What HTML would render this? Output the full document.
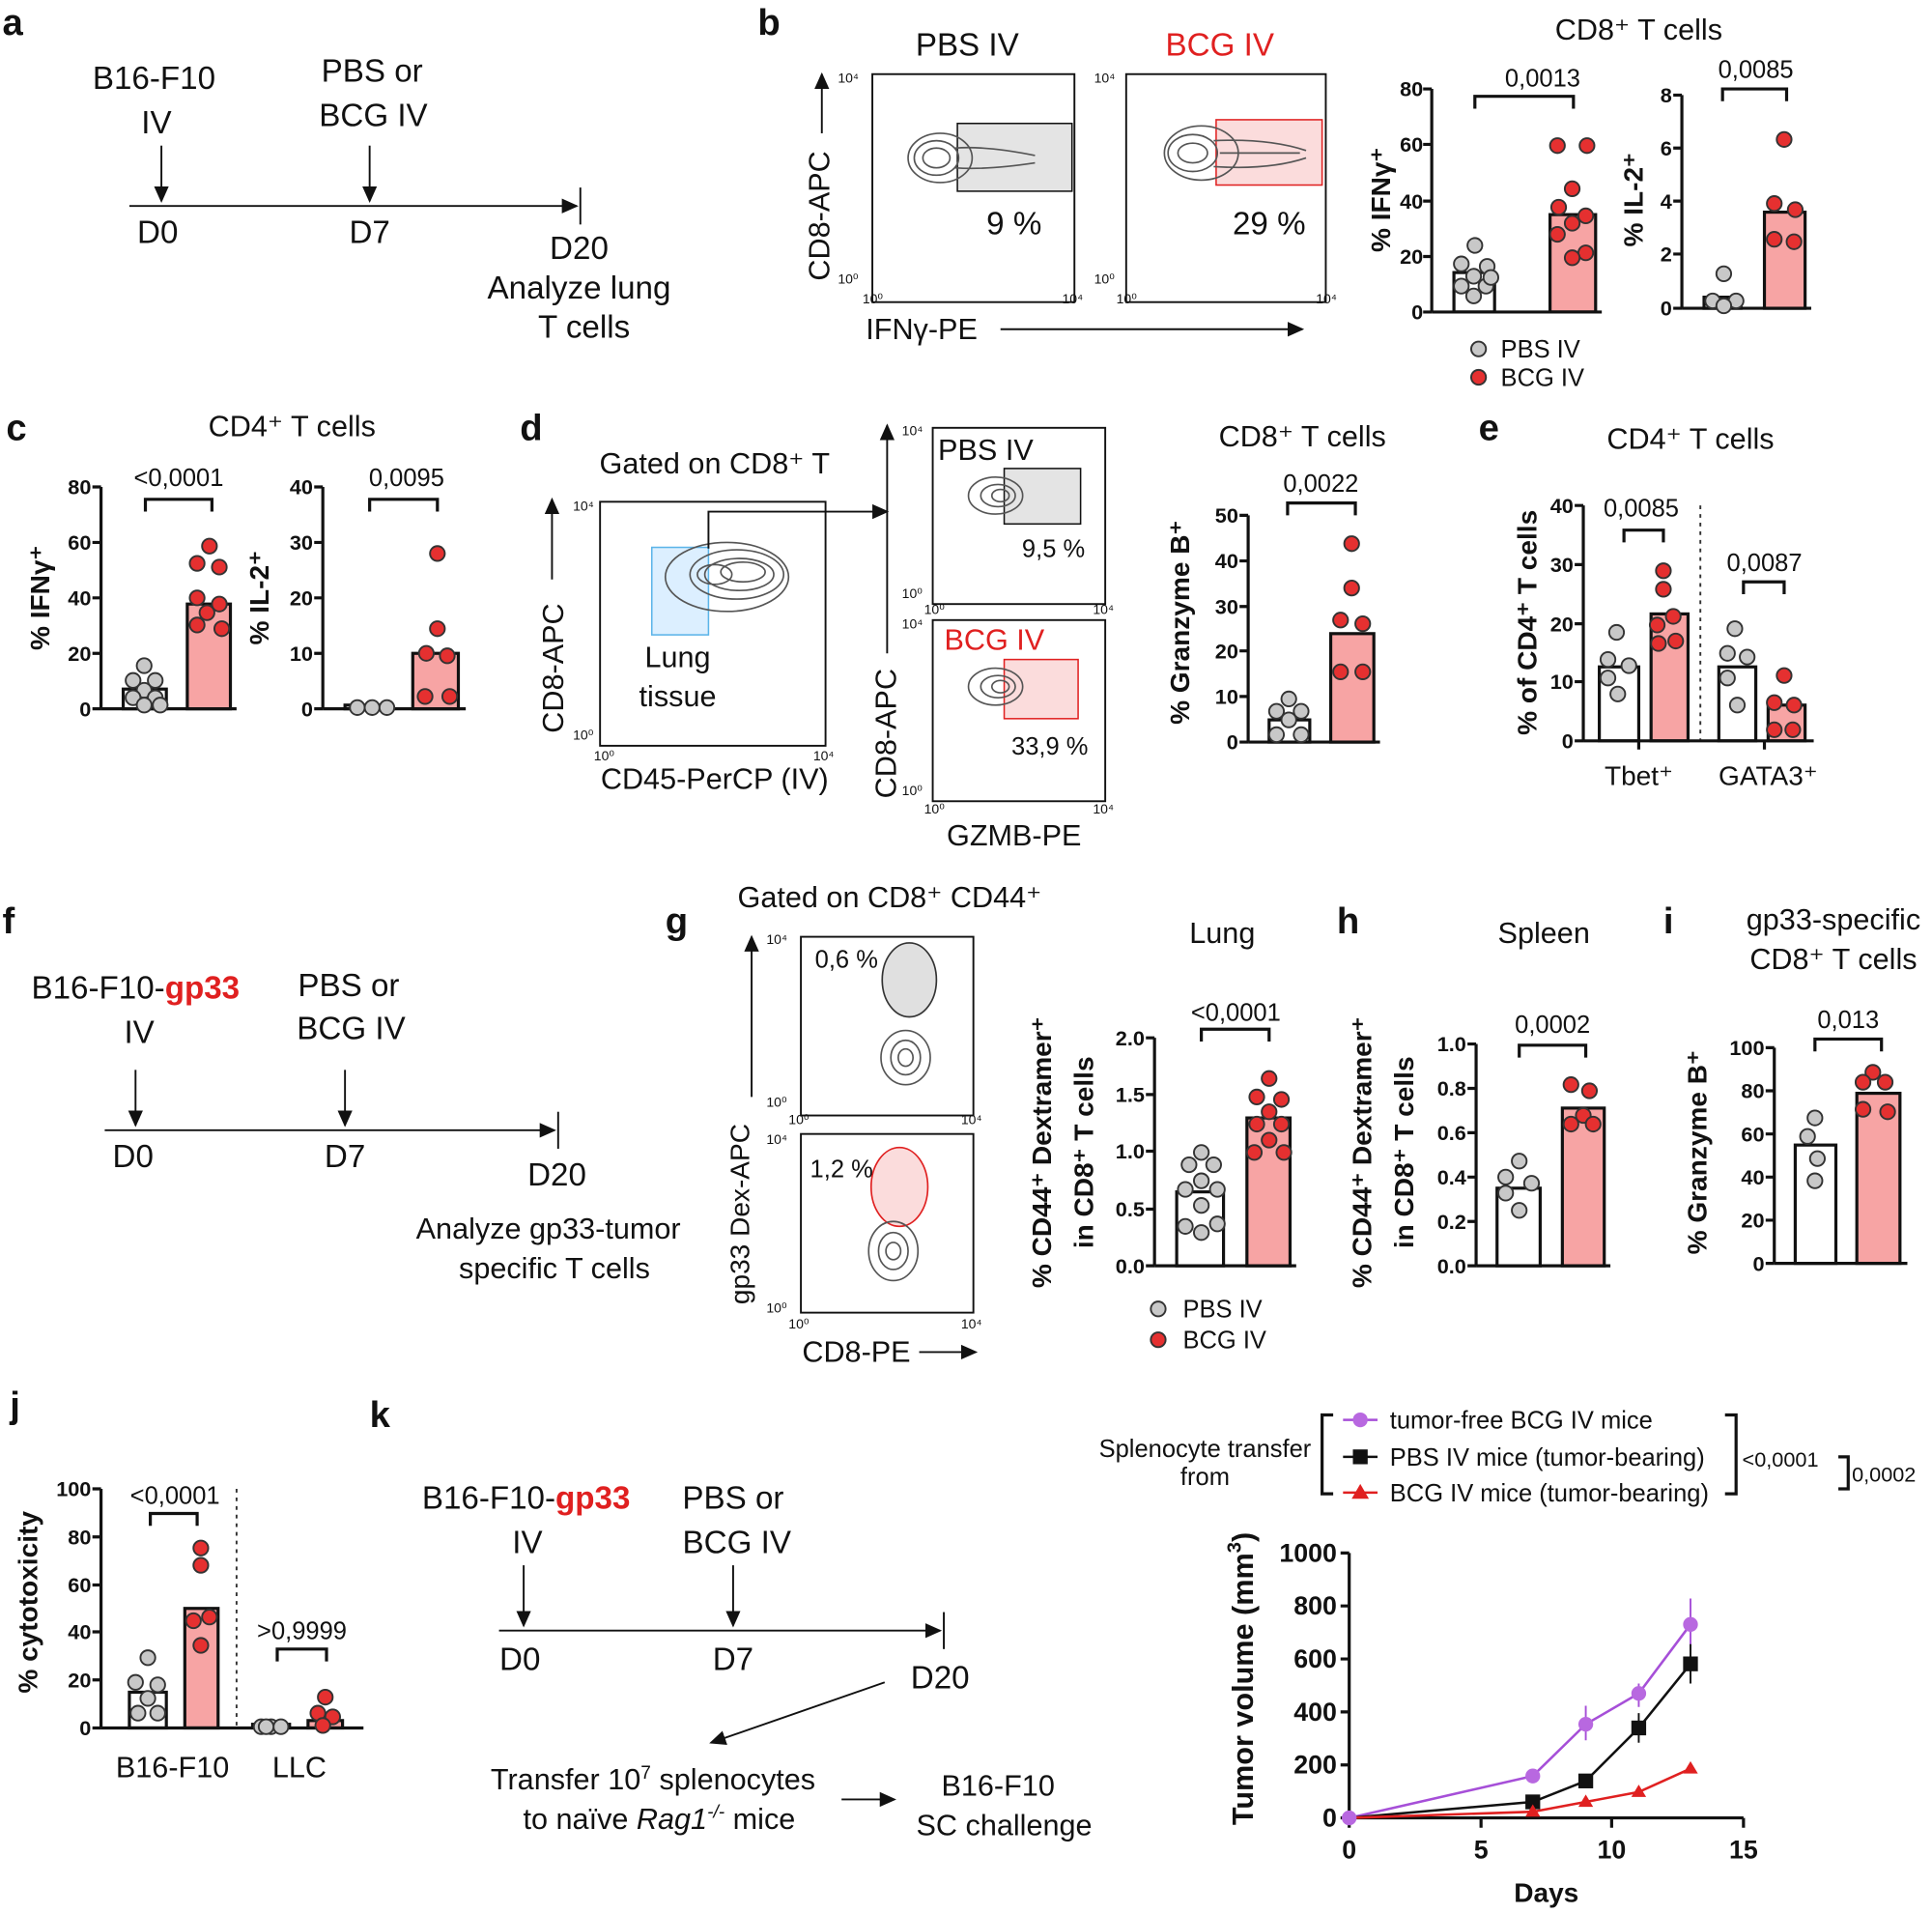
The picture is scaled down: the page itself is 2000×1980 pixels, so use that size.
<!DOCTYPE html>
<html><head><meta charset="utf-8"><style>
html,body{margin:0;padding:0;background:#fff}
svg{display:block}
text{font-family:"Liberation Sans",Arial,sans-serif;fill:#111}
.L{font-size:30px;font-weight:bold}
.T{font-size:26px}
.S{font-size:20px}
.tk{font-size:17px;font-weight:bold}
.yl{font-size:22px;font-weight:bold}
.sm{font-size:11px}
.ax{stroke:#111;stroke-width:2.5;fill:none}
.ln{stroke:#111;stroke-width:1.5;fill:none}
.pb{fill:#fff;stroke:#111;stroke-width:2.5}
.rb{fill:#f7a4a4;stroke:#111;stroke-width:2.5}
.gp{fill:#c8c8c8;stroke:#333;stroke-width:1.5}
.rp{fill:#e53030;stroke:#333;stroke-width:1.5}
.ct{fill:none;stroke:#555;stroke-width:1.3}
.br{fill:none;stroke:#111;stroke-width:2.5}
</style></head><body>
<svg width="2000" height="1980" viewBox="0 0 1568 1552" xmlns="http://www.w3.org/2000/svg">
<defs><marker id="ah" markerWidth="10" markerHeight="10" refX="8" refY="5" orient="auto"><path d="M0,1 L9,5 L0,9 z" fill="#111"/></marker></defs>

<!-- a -->
<text class="L" x="2" y="28">a</text>
<g class="T" text-anchor="middle">
<text x="125" y="72">B16-F10</text><text x="127" y="108">IV</text>
<text x="302" y="66">PBS or</text><text x="303" y="102">BCG IV</text>
<text x="128" y="197">D0</text><text x="300" y="197">D7</text><text x="470" y="210">D20</text>
<text x="470" y="242">Analyze lung</text><text x="474" y="274">T cells</text></g>
<line class="ln" x1="131" y1="118" x2="131" y2="163" marker-end="url(#ah)"/>
<line class="ln" x1="300" y1="118" x2="300" y2="163" marker-end="url(#ah)"/>
<line class="ln" x1="105" y1="167" x2="468" y2="167" marker-end="url(#ah)"/>
<line class="ln" x1="471" y1="152" x2="471" y2="182"/>

<!-- b -->
<text class="L" x="615" y="28">b</text>
<text class="T" x="785" y="45" text-anchor="middle">PBS IV</text>
<text class="T" x="990" y="45" text-anchor="middle" style="fill:#e02020">BCG IV</text>
<rect x="708" y="60" width="164" height="185" class="ln"/>
<rect x="914" y="60" width="162" height="185" class="ln"/>
<rect x="777" y="100" width="93" height="55" fill="#e4e4e4" stroke="#111" stroke-width="1.2"/>
<rect x="987" y="97" width="86" height="53" fill="#fbdcdc" stroke="#e02020" stroke-width="1.2"/>
<g class="ct"><ellipse cx="760" cy="128" rx="18" ry="14"/><ellipse cx="760" cy="128" rx="11" ry="8"/><ellipse cx="763" cy="128" rx="26" ry="20"/><path d="M775,120 Q800,118 840,126"/><path d="M775,136 Q800,138 840,132"/>
<ellipse cx="968" cy="124" rx="20" ry="15"/><ellipse cx="968" cy="124" rx="12" ry="8"/><ellipse cx="975" cy="124" rx="30" ry="22"/><path d="M985,114 Q1030,112 1060,122"/><path d="M985,135 Q1030,138 1060,128"/><path d="M990,124 Q1030,124 1055,124"/></g>
<text class="T" x="823" y="190" text-anchor="middle">9 %</text>
<text class="T" x="1030" y="190" text-anchor="middle">29 %</text>
<g class="sm"><text x="680" y="67">10⁴</text><text x="680" y="230">10⁰</text><text x="700" y="246">10⁰</text><text x="862" y="246">10⁴</text>
<text x="888" y="67">10⁴</text><text x="888" y="230">10⁰</text><text x="906" y="246">10⁰</text><text x="1068" y="246">10⁴</text></g>
<line class="ln" x1="667" y1="108" x2="667" y2="60" marker-end="url(#ah)"/>
<text class="T" transform="translate(673,175) rotate(-90)" text-anchor="middle" style="font-size:24px">CD8-APC</text>
<text class="T" x="748" y="275" text-anchor="middle" style="font-size:24px">IFNγ-PE</text>
<line class="ln" x1="812" y1="267" x2="1057" y2="267" marker-end="url(#ah)"/>
<text class="T" x="1330" y="32" text-anchor="middle" style="font-size:24px">CD8⁺ T cells</text>
<!-- IFN bar -->
<g class="tk" text-anchor="end"><text x="1155" y="259">0</text><text x="1155" y="214">20</text><text x="1155" y="169">40</text><text x="1155" y="123">60</text><text x="1155" y="78">80</text></g>
<path class="ax" d="M1162,72V253M1155,72H1162M1155,117H1162M1155,163H1162M1155,208H1162M1155,253H1162"/>
<rect class="pb" x="1180" y="221" width="33" height="32"/><rect class="rb" x="1258" y="174" width="37" height="79"/>
<path class="ax" d="M1162,253H1300"/>
<path class="br" d="M1197,88V78H1277V88"/><text class="S" x="1252" y="70" text-anchor="middle">0,0013</text>
<g class="gp"><circle cx="1197" cy="199" r="6"/><circle cx="1186" cy="214" r="6"/><circle cx="1207" cy="216" r="6"/><circle cx="1196" cy="224" r="6"/><circle cx="1186" cy="232" r="6"/><circle cx="1206" cy="232" r="6"/><circle cx="1196" cy="240" r="6"/><circle cx="1210" cy="225" r="6"/></g>
<g class="rp"><circle cx="1264" cy="118" r="6"/><circle cx="1288" cy="118" r="6"/><circle cx="1276" cy="153" r="6"/><circle cx="1265" cy="168" r="6"/><circle cx="1287" cy="175" r="6"/><circle cx="1276" cy="181" r="6"/><circle cx="1264" cy="190" r="6"/><circle cx="1287" cy="205" r="6"/><circle cx="1276" cy="209" r="6"/></g>
<text class="yl" transform="translate(1128,162) rotate(-90)" text-anchor="middle">% IFNγ⁺</text>
<!-- IL2 -->
<g class="tk" text-anchor="end"><text x="1357" y="256">0</text><text x="1357" y="212">2</text><text x="1357" y="169">4</text><text x="1357" y="126">6</text><text x="1357" y="83">8</text></g>
<path class="ax" d="M1365,77V250M1358,77H1365M1358,120H1365M1358,163H1365M1358,206H1365M1358,250H1365"/>
<rect class="pb" x="1383" y="241" width="30" height="9"/><rect class="rb" x="1432" y="172" width="33" height="78"/>
<path class="ax" d="M1365,250H1470"/>
<path class="br" d="M1398,82V72H1450V82"/><text class="S" x="1425" y="63" text-anchor="middle">0,0085</text>
<g class="gp"><circle cx="1399" cy="222" r="6"/><circle cx="1390" cy="244" r="6"/><circle cx="1409" cy="244" r="6"/><circle cx="1399" cy="248" r="6"/></g>
<g class="rp"><circle cx="1448" cy="113" r="6"/><circle cx="1440" cy="165" r="6"/><circle cx="1457" cy="170" r="6"/><circle cx="1440" cy="194" r="6"/><circle cx="1456" cy="196" r="6"/></g>
<text class="yl" transform="translate(1333,162) rotate(-90)" text-anchor="middle">% IL-2⁺</text>
<circle class="gp" cx="1200" cy="283" r="6"/><text class="S" x="1218" y="290">PBS IV</text>
<circle class="rp" cx="1200" cy="306" r="6"/><text class="S" x="1218" y="313">BCG IV</text>

<!-- c -->
<text class="L" x="5" y="357">c</text>
<text class="T" x="237" y="354" text-anchor="middle" style="font-size:24px">CD4⁺ T cells</text>
<g class="tk" text-anchor="end"><text x="74" y="581">0</text><text x="74" y="536">20</text><text x="74" y="491">40</text><text x="74" y="446">60</text><text x="74" y="401">80</text></g>
<path class="ax" d="M82,395V575M75,395H82M75,440H82M75,485H82M75,530H82M75,575H82"/>
<rect class="pb" x="100" y="559" width="35" height="16"/><rect class="rb" x="152" y="490" width="35" height="85"/>
<path class="ax" d="M82,575H192"/>
<path class="br" d="M118,415V405H172V415"/><text class="S" x="145" y="394" text-anchor="middle">&lt;0,0001</text>
<g class="gp"><circle cx="117" cy="540" r="6"/><circle cx="108" cy="552" r="6"/><circle cx="126" cy="552" r="6"/><circle cx="117" cy="560" r="6"/><circle cx="108" cy="566" r="6"/><circle cx="126" cy="566" r="6"/><circle cx="117" cy="572" r="6"/><circle cx="130" cy="572" r="6"/></g>
<g class="rp"><circle cx="170" cy="443" r="6"/><circle cx="160" cy="457" r="6"/><circle cx="178" cy="460" r="6"/><circle cx="160" cy="485" r="6"/><circle cx="178" cy="490" r="6"/><circle cx="168" cy="497" r="6"/><circle cx="180" cy="510" r="6"/><circle cx="160" cy="507" r="6"/></g>
<text class="yl" transform="translate(40,485) rotate(-90)" text-anchor="middle">% IFNγ⁺</text>
<g class="tk" text-anchor="end"><text x="254" y="581">0</text><text x="254" y="536">10</text><text x="254" y="491">20</text><text x="254" y="446">30</text><text x="254" y="401">40</text></g>
<path class="ax" d="M262,395V575M255,395H262M255,440H262M255,485H262M255,530H262M255,575H262"/>
<rect class="pb" x="280" y="572" width="38" height="3"/><rect class="rb" x="335" y="530" width="37" height="45"/>
<path class="ax" d="M262,575H378"/>
<path class="br" d="M300,415V405H355V415"/><text class="S" x="330" y="394" text-anchor="middle">0,0095</text>
<g class="gp"><circle cx="290" cy="574" r="6"/><circle cx="302" cy="574" r="6"/><circle cx="314" cy="574" r="6"/></g>
<g class="rp"><circle cx="355" cy="449" r="6"/><circle cx="355" cy="510" r="6"/><circle cx="346" cy="530" r="6"/><circle cx="363" cy="532" r="6"/><circle cx="345" cy="565" r="6"/><circle cx="365" cy="565" r="6"/></g>
<text class="yl" transform="translate(218,485) rotate(-90)" text-anchor="middle">% IL-2⁺</text>

<!-- d -->
<text class="L" x="422" y="357">d</text>
<text class="T" x="580" y="384" text-anchor="middle" style="font-size:24px">Gated on CD8⁺ T</text>
<rect x="487" y="407" width="183" height="198" class="ln"/>
<rect x="529" y="444" width="46" height="71" fill="#dcefff" stroke="#5bb4e8" stroke-width="1.2"/>
<g class="ct"><ellipse cx="598" cy="466" rx="38" ry="20"/><ellipse cx="600" cy="466" rx="28" ry="13"/><ellipse cx="603" cy="464" rx="18" ry="8"/><ellipse cx="580" cy="466" rx="14" ry="8"/><ellipse cx="590" cy="468" rx="50" ry="28"/></g>
<text class="T" x="550" y="541" text-anchor="middle" style="font-size:24px">Lung</text><text class="T" x="550" y="573" text-anchor="middle" style="font-size:24px">tissue</text>
<line class="ln" x1="448" y1="470" x2="448" y2="405" marker-end="url(#ah)"/>
<text class="T" transform="translate(457,542) rotate(-90)" text-anchor="middle" style="font-size:24px">CD8-APC</text>
<text class="T" x="580" y="640" text-anchor="middle" style="font-size:24px">CD45-PerCP (IV)</text>
<g class="sm"><text x="465" y="414">10⁴</text><text x="465" y="600">10⁰</text><text x="482" y="617">10⁰</text><text x="660" y="617">10⁴</text></g>
<path class="ln" d="M575,445V415H720" marker-end="url(#ah)"/>
<rect x="757" y="347" width="140" height="143" class="ln"/>
<rect x="757" y="503" width="140" height="147" class="ln"/>
<rect x="815" y="380" width="62" height="45" fill="#e4e4e4" stroke="#111" stroke-width="1.2"/>
<rect x="815" y="535" width="60" height="48" fill="#fbdcdc" stroke="#e02020" stroke-width="1.2"/>
<g class="ct"><ellipse cx="808" cy="402" rx="22" ry="15"/><ellipse cx="810" cy="402" rx="14" ry="9"/><ellipse cx="812" cy="402" rx="7" ry="5"/>
<ellipse cx="808" cy="557" rx="22" ry="15"/><ellipse cx="810" cy="557" rx="14" ry="9"/><ellipse cx="812" cy="557" rx="7" ry="5"/></g>
<text class="T" x="800" y="373" text-anchor="middle" style="font-size:24px">PBS IV</text>
<text class="T" x="807" y="527" text-anchor="middle" style="font-size:24px;fill:#e02020">BCG IV</text>
<text class="S" x="855" y="452" text-anchor="middle">9,5 %</text>
<text class="S" x="852" y="612" text-anchor="middle">33,9 %</text>
<g class="sm"><text x="732" y="353">10⁴</text><text x="732" y="485">10⁰</text><text x="750" y="498">10⁰</text><text x="887" y="498">10⁴</text>
<text x="732" y="510">10⁴</text><text x="732" y="645">10⁰</text><text x="750" y="660">10⁰</text><text x="887" y="660">10⁴</text></g>
<line class="ln" x1="720" y1="530" x2="720" y2="345" marker-end="url(#ah)"/>
<text class="T" transform="translate(727,595) rotate(-90)" text-anchor="middle" style="font-size:24px">CD8-APC</text>
<text class="T" x="823" y="686" text-anchor="middle" style="font-size:24px">GZMB-PE</text>
<text class="T" x="1057" y="362" text-anchor="middle" style="font-size:24px">CD8⁺ T cells</text>
<g class="tk" text-anchor="end"><text x="1005" y="608">0</text><text x="1005" y="571">10</text><text x="1005" y="534">20</text><text x="1005" y="498">30</text><text x="1005" y="461">40</text><text x="1005" y="424">50</text></g>
<path class="ax" d="M1013,418V602M1006,418H1013M1006,455H1013M1006,492H1013M1006,528H1013M1006,565H1013M1006,602H1013"/>
<rect class="pb" x="1030" y="584" width="33" height="18"/><rect class="rb" x="1080" y="514" width="35" height="88"/>
<path class="ax" d="M1013,602H1120"/>
<path class="br" d="M1045,418V408H1100V418"/><text class="S" x="1072" y="399" text-anchor="middle">0,0022</text>
<g class="gp"><circle cx="1046" cy="567" r="6"/><circle cx="1036" cy="577" r="6"/><circle cx="1056" cy="577" r="6"/><circle cx="1046" cy="584" r="6"/><circle cx="1036" cy="596" r="6"/><circle cx="1056" cy="596" r="6"/></g>
<g class="rp"><circle cx="1097" cy="441" r="6"/><circle cx="1097" cy="477" r="6"/><circle cx="1088" cy="503" r="6"/><circle cx="1106" cy="506" r="6"/><circle cx="1088" cy="545" r="6"/><circle cx="1106" cy="545" r="6"/></g>
<text class="yl" transform="translate(965,505) rotate(-90)" text-anchor="middle">% Granzyme B⁺</text>

<!-- e -->
<text class="L" x="1200" y="357">e</text>
<text class="T" x="1372" y="364" text-anchor="middle" style="font-size:24px">CD4⁺ T cells</text>
<g class="tk" text-anchor="end"><text x="1277" y="607">0</text><text x="1277" y="559">10</text><text x="1277" y="512">20</text><text x="1277" y="464">30</text><text x="1277" y="416">40</text></g>
<path class="ax" d="M1285,410V601M1278,410H1285M1278,458H1285M1278,506H1285M1278,553H1285M1278,601H1285"/>
<rect class="pb" x="1298" y="541" width="32" height="60"/><rect class="rb" x="1340" y="498" width="30" height="103"/>
<rect class="pb" x="1395" y="541" width="30" height="60"/><rect class="rb" x="1435" y="572" width="30" height="29"/>
<path class="ax" d="M1285,601H1472M1330,601V608M1432,601V608"/>
<line x1="1380" y1="410" x2="1380" y2="600" stroke="#333" stroke-width="1.5" stroke-dasharray="3,4"/>
<path class="br" d="M1318,440V430H1350V440"/><text class="S" x="1332" y="419" text-anchor="middle">0,0085</text>
<path class="br" d="M1415,482V472H1448V482"/><text class="S" x="1432" y="463" text-anchor="middle">0,0087</text>
<g class="gp"><circle cx="1312" cy="513" r="6"/><circle cx="1305" cy="535" r="6"/><circle cx="1322" cy="540" r="6"/><circle cx="1305" cy="550" r="6"/><circle cx="1313" cy="563" r="6"/>
<circle cx="1408" cy="510" r="6"/><circle cx="1402" cy="530" r="6"/><circle cx="1418" cy="533" r="6"/><circle cx="1402" cy="550" r="6"/><circle cx="1410" cy="572" r="6"/></g>
<g class="rp"><circle cx="1350" cy="463" r="6"/><circle cx="1350" cy="478" r="6"/><circle cx="1358" cy="500" r="6"/><circle cx="1345" cy="507" r="6"/><circle cx="1360" cy="520" r="6"/><circle cx="1346" cy="522" r="6"/>
<circle cx="1448" cy="548" r="6"/><circle cx="1440" cy="570" r="6"/><circle cx="1456" cy="572" r="6"/><circle cx="1440" cy="592" r="6"/><circle cx="1455" cy="592" r="6"/></g>
<text class="T" x="1330" y="637" text-anchor="middle" style="font-size:22px">Tbet⁺</text>
<text class="T" x="1435" y="637" text-anchor="middle" style="font-size:22px">GATA3⁺</text>
<text class="yl" transform="translate(1247,505) rotate(-90)" text-anchor="middle">% of CD4⁺ T cells</text>

<!-- f -->
<text class="L" x="2" y="757">f</text>
<text class="T" x="110" y="810" text-anchor="middle">B16-F10-<tspan style="fill:#e02020;font-weight:bold">gp33</tspan></text>
<g class="T" text-anchor="middle"><text x="113" y="846">IV</text><text x="283" y="808">PBS or</text><text x="285" y="843">BCG IV</text>
<text x="108" y="947">D0</text><text x="280" y="947">D7</text><text x="452" y="962">D20</text>
<text x="445" y="1005" style="font-size:24px">Analyze gp33-tumor</text><text x="450" y="1037" style="font-size:24px">specific T cells</text></g>
<line class="ln" x1="110" y1="868" x2="110" y2="913" marker-end="url(#ah)"/>
<line class="ln" x1="280" y1="868" x2="280" y2="913" marker-end="url(#ah)"/>
<line class="ln" x1="85" y1="917" x2="450" y2="917" marker-end="url(#ah)"/>
<line class="ln" x1="453" y1="902" x2="453" y2="932"/>

<!-- g -->
<text class="L" x="540" y="757">g</text>
<text class="T" x="722" y="736" text-anchor="middle" style="font-size:24px">Gated on CD8⁺ CD44⁺</text>
<rect x="650" y="760" width="140" height="145" class="ln"/>
<rect x="650" y="920" width="140" height="145" class="ln"/>
<ellipse cx="738" cy="795" rx="22" ry="30" fill="#e0e0e0" stroke="#333" stroke-width="1.3"/>
<ellipse cx="730" cy="963" rx="23" ry="32" fill="#fbdcdc" stroke="#e02020" stroke-width="1.3"/>
<g class="ct"><ellipse cx="735" cy="858" rx="20" ry="22"/><ellipse cx="735" cy="858" rx="12" ry="14"/><ellipse cx="735" cy="858" rx="6" ry="7"/>
<ellipse cx="725" cy="1015" rx="20" ry="24"/><ellipse cx="725" cy="1015" rx="12" ry="15"/><ellipse cx="725" cy="1015" rx="6" ry="7"/></g>
<text class="S" x="687" y="785" text-anchor="middle">0,6 %</text>
<text class="S" x="683" y="955" text-anchor="middle">1,2 %</text>
<g class="sm"><text x="622" y="766">10⁴</text><text x="622" y="898">10⁰</text><text x="640" y="912">10⁰</text><text x="780" y="912">10⁴</text>
<text x="622" y="928">10⁴</text><text x="622" y="1065">10⁰</text><text x="640" y="1078">10⁰</text><text x="780" y="1078">10⁴</text></g>
<line class="ln" x1="610" y1="890" x2="610" y2="760" marker-end="url(#ah)"/>
<text class="T" transform="translate(608,985) rotate(-90)" text-anchor="middle" style="font-size:22px">gp33 Dex-APC</text>
<text class="T" x="695" y="1105" text-anchor="middle" style="font-size:24px">CD8-PE</text>
<line class="ln" x1="746" y1="1097" x2="792" y2="1097" marker-end="url(#ah)"/>
<text class="T" x="992" y="765" text-anchor="middle" style="font-size:24px">Lung</text>
<g class="tk" text-anchor="end"><text x="929" y="1033">0.0</text><text x="929" y="987">0.5</text><text x="929" y="940">1.0</text><text x="929" y="894">1.5</text><text x="929" y="848">2.0</text></g>
<path class="ax" d="M937,842V1027M930,842H937M930,888H937M930,934H937M930,981H937M930,1027H937"/>
<rect class="pb" x="955" y="967" width="38" height="60"/><rect class="rb" x="1012" y="907" width="35" height="120"/>
<path class="ax" d="M937,1027H1052"/>
<path class="br" d="M975,845V835H1030V845"/><text class="S" x="1003" y="828" text-anchor="middle">&lt;0,0001</text>
<g class="gp"><circle cx="975" cy="935" r="6"/><circle cx="965" cy="945" r="6"/><circle cx="985" cy="945" r="6"/><circle cx="975" cy="958" r="6"/><circle cx="962" cy="965" r="6"/><circle cx="988" cy="965" r="6"/><circle cx="975" cy="978" r="6"/><circle cx="962" cy="995" r="6"/><circle cx="988" cy="993" r="6"/><circle cx="975" cy="1000" r="6"/></g>
<g class="rp"><circle cx="1030" cy="875" r="6"/><circle cx="1020" cy="890" r="6"/><circle cx="1040" cy="892" r="6"/><circle cx="1030" cy="902" r="6"/><circle cx="1020" cy="912" r="6"/><circle cx="1040" cy="912" r="6"/><circle cx="1030" cy="925" r="6"/><circle cx="1018" cy="935" r="6"/><circle cx="1042" cy="935" r="6"/></g>
<text class="yl" transform="translate(853,935) rotate(-90)" text-anchor="middle">% CD44⁺ Dextramer⁺</text>
<text class="yl" transform="translate(887,935) rotate(-90)" text-anchor="middle">in CD8⁺ T cells</text>
<circle class="gp" cx="940" cy="1062" r="6"/><text class="S" x="960" y="1069">PBS IV</text>
<circle class="rp" cx="940" cy="1087" r="6"/><text class="S" x="960" y="1094">BCG IV</text>

<!-- h -->
<text class="L" x="1085" y="757">h</text>
<text class="T" x="1253" y="765" text-anchor="middle" style="font-size:24px">Spleen</text>
<g class="tk" text-anchor="end"><text x="1190" y="1033">0.0</text><text x="1190" y="997">0.2</text><text x="1190" y="961">0.4</text><text x="1190" y="925">0.6</text><text x="1190" y="889">0.8</text><text x="1190" y="853">1.0</text></g>
<path class="ax" d="M1198,847V1027M1191,847H1198M1191,883H1198M1191,919H1198M1191,955H1198M1191,991H1198M1191,1027H1198"/>
<rect class="pb" x="1215" y="964" width="35" height="63"/><rect class="rb" x="1268" y="899" width="34" height="128"/>
<path class="ax" d="M1198,1027H1307"/>
<path class="br" d="M1233,858V848H1287V858"/><text class="S" x="1260" y="838" text-anchor="middle">0,0002</text>
<g class="gp"><circle cx="1233" cy="942" r="6"/><circle cx="1222" cy="955" r="6"/><circle cx="1243" cy="960" r="6"/><circle cx="1222" cy="968" r="6"/><circle cx="1233" cy="982" r="6"/></g>
<g class="rp"><circle cx="1275" cy="880" r="6"/><circle cx="1290" cy="885" r="6"/><circle cx="1285" cy="905" r="6"/><circle cx="1275" cy="912" r="6"/><circle cx="1293" cy="912" r="6"/></g>
<text class="yl" transform="translate(1113,935) rotate(-90)" text-anchor="middle">% CD44⁺ Dextramer⁺</text>
<text class="yl" transform="translate(1147,935) rotate(-90)" text-anchor="middle">in CD8⁺ T cells</text>

<!-- i -->
<text class="L" x="1350" y="757">i</text>
<text class="T" x="1488" y="754" text-anchor="middle" style="font-size:24px">gp33-specific</text>
<text class="T" x="1488" y="786" text-anchor="middle" style="font-size:24px">CD8⁺ T cells</text>
<g class="tk" text-anchor="end"><text x="1432" y="1031">0</text><text x="1432" y="996">20</text><text x="1432" y="961">40</text><text x="1432" y="926">60</text><text x="1432" y="891">80</text><text x="1432" y="856">100</text></g>
<path class="ax" d="M1440,850V1025M1433,850H1440M1433,885H1440M1433,920H1440M1433,955H1440M1433,990H1440M1433,1025H1440"/>
<rect class="pb" x="1457" y="929" width="33" height="96"/><rect class="rb" x="1507" y="887" width="35" height="138"/>
<path class="ax" d="M1440,1025H1548"/>
<path class="br" d="M1473,853V843H1527V853"/><text class="S" x="1500" y="834" text-anchor="middle">0,013</text>
<g class="gp"><circle cx="1473" cy="907" r="6"/><circle cx="1467" cy="922" r="6"/><circle cx="1475" cy="940" r="6"/><circle cx="1473" cy="958" r="6"/></g>
<g class="rp"><circle cx="1520" cy="870" r="6"/><circle cx="1512" cy="878" r="6"/><circle cx="1530" cy="878" r="6"/><circle cx="1512" cy="900" r="6"/><circle cx="1532" cy="902" r="6"/></g>
<text class="yl" transform="translate(1385,935) rotate(-90)" text-anchor="middle">% Granzyme B⁺</text>

<!-- j -->
<text class="L" x="8" y="1150">j</text>
<g class="tk" text-anchor="end"><text x="74" y="1408">0</text><text x="74" y="1369">20</text><text x="74" y="1330">40</text><text x="74" y="1292">60</text><text x="74" y="1253">80</text><text x="74" y="1214">100</text></g>
<path class="ax" d="M82,1208V1402M75,1208H82M75,1247H82M75,1286H82M75,1324H82M75,1363H82M75,1402H82"/>
<rect class="pb" x="105" y="1373" width="30" height="29"/><rect class="rb" x="150" y="1305" width="27" height="97"/>
<rect class="pb" x="205" y="1399" width="30" height="3"/><rect class="rb" x="250" y="1396" width="28" height="6"/>
<path class="ax" d="M82,1402H295"/>
<line x1="192" y1="1208" x2="192" y2="1400" stroke="#333" stroke-width="1.5" stroke-dasharray="3,4"/>
<path class="br" d="M122,1238V1228H160V1238"/><text class="S" x="142" y="1220" text-anchor="middle">&lt;0,0001</text>
<path class="br" d="M225,1348V1338H265V1348"/><text class="S" x="245" y="1330" text-anchor="middle">&gt;0,9999</text>
<g class="gp"><circle cx="120" cy="1345" r="6"/><circle cx="110" cy="1365" r="6"/><circle cx="128" cy="1367" r="6"/><circle cx="120" cy="1378" r="6"/><circle cx="112" cy="1390" r="6"/><circle cx="128" cy="1390" r="6"/>
<circle cx="212" cy="1401" r="6"/><circle cx="220" cy="1401" r="6"/><circle cx="228" cy="1401" r="6"/><circle cx="216" cy="1401" r="6"/></g>
<g class="rp"><circle cx="163" cy="1256" r="6"/><circle cx="163" cy="1270" r="6"/><circle cx="170" cy="1312" r="6"/><circle cx="157" cy="1315" r="6"/><circle cx="163" cy="1335" r="6"/>
<circle cx="264" cy="1377" r="6"/><circle cx="258" cy="1390" r="6"/><circle cx="270" cy="1393" r="6"/><circle cx="262" cy="1400" r="6"/></g>
<text class="T" x="140" y="1442" text-anchor="middle" style="font-size:24px">B16-F10</text>
<text class="T" x="243" y="1442" text-anchor="middle" style="font-size:24px">LLC</text>
<text class="yl" transform="translate(30,1300) rotate(-90)" text-anchor="middle">% cytotoxicity</text>

<!-- k -->
<text class="L" x="300" y="1158">k</text>
<text class="T" x="427" y="1224" text-anchor="middle">B16-F10-<tspan style="fill:#e02020;font-weight:bold">gp33</tspan></text>
<g class="T" text-anchor="middle"><text x="428" y="1260">IV</text><text x="595" y="1224">PBS or</text><text x="598" y="1260">BCG IV</text>
<text x="422" y="1355">D0</text><text x="595" y="1355">D7</text><text x="763" y="1370">D20</text>
<text x="530" y="1452" style="font-size:24px">Transfer 10<tspan dy="-9" style="font-size:15px">7</tspan><tspan dy="9"> splenocytes</tspan></text>
<text x="535" y="1484" style="font-size:24px">to naïve <tspan font-style="italic">Rag1<tspan dy="-9" style="font-size:15px">-/-</tspan></tspan><tspan dy="9"> mice</tspan></text>
<text x="810" y="1457" style="font-size:24px">B16-F10</text><text x="815" y="1489" style="font-size:24px">SC challenge</text></g>
<line class="ln" x1="425" y1="1270" x2="425" y2="1319" marker-end="url(#ah)"/>
<line class="ln" x1="595" y1="1270" x2="595" y2="1319" marker-end="url(#ah)"/>
<line class="ln" x1="405" y1="1323" x2="763" y2="1323" marker-end="url(#ah)"/>
<line class="ln" x1="766" y1="1308" x2="766" y2="1338"/>
<line class="ln" x1="718" y1="1365" x2="577" y2="1414" marker-end="url(#ah)"/>
<line class="ln" x1="683" y1="1460" x2="726" y2="1460" marker-end="url(#ah)"/>
<!-- legend -->
<text class="S" x="978" y="1182" text-anchor="middle">Splenocyte transfer</text>
<text class="S" x="978" y="1205" text-anchor="middle">from</text>
<path class="br" d="M1082,1148H1073V1212H1082"/>
<path class="br" d="M1400,1148H1409V1212H1400"/>
<path class="br" d="M1492,1182H1500V1208H1492"/>
<text style="font-size:17px" x="1414" y="1190">&lt;0,0001</text>
<text style="font-size:17px" x="1503" y="1202">0,0002</text>
<line x1="1090" y1="1152" x2="1118" y2="1152" stroke="#a64fd8" stroke-width="2"/><circle cx="1104" cy="1152" r="6" fill="#b868e0"/>
<text class="S" x="1128" y="1159">tumor-free BCG IV mice</text>
<line x1="1090" y1="1182" x2="1118" y2="1182" stroke="#111" stroke-width="2"/><rect x="1098" y="1176" width="12" height="12" fill="#111"/>
<text class="S" x="1128" y="1189">PBS IV mice (tumor-bearing)</text>
<line x1="1090" y1="1211" x2="1118" y2="1211" stroke="#e02020" stroke-width="2"/><path d="M1104,1204 L1111,1216 L1097,1216 z" fill="#e02020"/>
<text class="S" x="1128" y="1218">BCG IV mice (tumor-bearing)</text>
<!-- line chart -->
<g style="font-size:21px;font-weight:bold" text-anchor="end"><text x="1085" y="1482">0</text><text x="1085" y="1439">200</text><text x="1085" y="1396">400</text><text x="1085" y="1353">600</text><text x="1085" y="1310">800</text><text x="1085" y="1267">1000</text></g>
<path class="ax" d="M1095,1260V1483M1088,1260H1095M1088,1303H1095M1088,1346H1095M1088,1389H1095M1088,1432H1095M1088,1475H1095M1095,1475H1415M1202,1475V1483M1308,1475V1483M1415,1475V1483"/>
<g style="font-size:21px;font-weight:bold" text-anchor="middle"><text x="1095" y="1508">0</text><text x="1202" y="1508">5</text><text x="1308" y="1508">10</text><text x="1415" y="1508">15</text></g>
<text style="font-size:22px;font-weight:bold" x="1255" y="1543" text-anchor="middle">Days</text>
<text style="font-size:24px;font-weight:bold" transform="translate(1017,1362) rotate(-90)" text-anchor="middle">Tumor volume (mm<tspan dy="-10" style="font-size:16px">3</tspan><tspan dy="10">)</tspan></text>
<g stroke-width="1.5"><path d="M1287,1384V1412M1330,1366V1385M1372,1297V1340" stroke="#a64fd8"/><path d="M1330,1390V1414M1372,1334V1366M1287,1440V1450" stroke="#111"/></g>
<polyline points="1095,1475 1244,1441 1287,1399 1330,1374 1372,1318" fill="none" stroke="#a64fd8" stroke-width="2"/>
<polyline points="1095,1475 1244,1462 1287,1445 1330,1402 1372,1350" fill="none" stroke="#111" stroke-width="2"/>
<polyline points="1095,1475 1244,1470 1287,1462 1330,1454 1372,1435" fill="none" stroke="#e02020" stroke-width="2"/>
<g fill="#b868e0"><circle cx="1095" cy="1475" r="6"/><circle cx="1244" cy="1441" r="6"/><circle cx="1287" cy="1399" r="6"/><circle cx="1330" cy="1374" r="6"/><circle cx="1372" cy="1318" r="6"/></g>
<g fill="#111"><rect x="1238" y="1456" width="12" height="12"/><rect x="1281" y="1439" width="12" height="12"/><rect x="1324" y="1396" width="12" height="12"/><rect x="1366" y="1344" width="12" height="12"/></g>
<g fill="#e02020"><path d="M1244,1464l6,10h-12z"/><path d="M1287,1456l6,10h-12z"/><path d="M1330,1448l6,10h-12z"/><path d="M1372,1429l6,10h-12z"/></g>
</svg>
</body></html>
